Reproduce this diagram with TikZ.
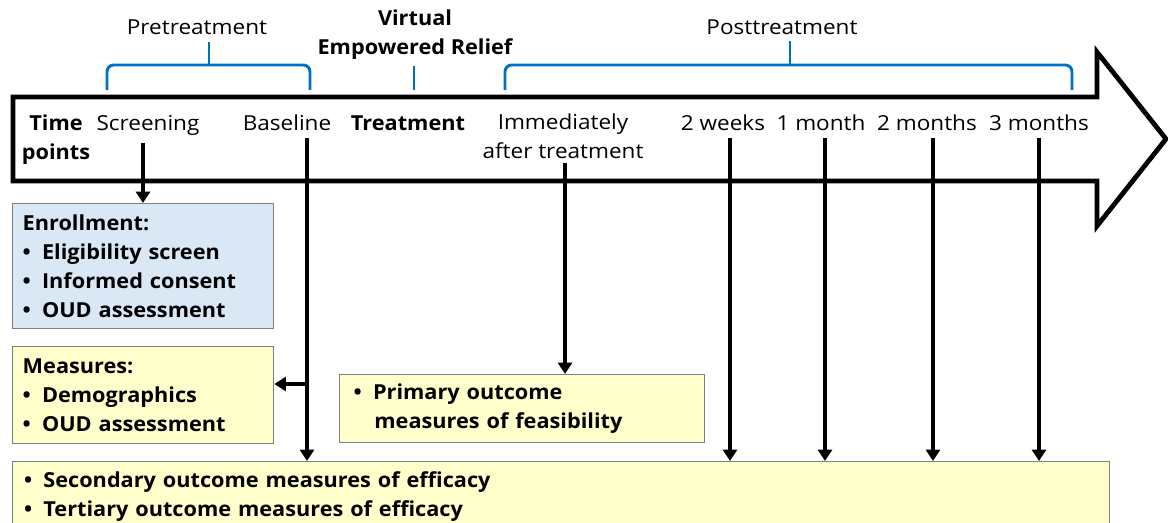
\documentclass[tikz,border=0pt]{standalone}
\usepackage{fontspec}
\newfontfamily\regf{Open Sans}[FakeStretch=1.09]
\newfontfamily\boldf{Open Sans}[FakeStretch=1.05]
\usetikzlibrary{arrows.meta}
\definecolor{bracketblue}{RGB}{0,112,192}
\definecolor{boxblue}{RGB}{218,232,245}
\definecolor{boxyellow}{RGB}{255,255,204}
\definecolor{boxgrey}{RGB}{128,128,128}
\newcommand{\bul}{\makebox[14.5pt][l]{•}}
\begin{document}
\begin{tikzpicture}[x=0.75pt,y=-0.75pt,
  lbl/.style={font=\fontsize{15.5}{21.75}\selectfont\regf, inner sep=0pt, align=center, anchor=base},
  blbl/.style={lbl, font=\fontsize{15.5}{21.75}\selectfont\boldf\bfseries},
  box/.style={draw=boxgrey, line width=1.1pt, anchor=north west, inner ysep=0pt, align=left,
    font=\fontsize{15.5}{21.75}\selectfont\boldf\bfseries},
  conn/.style={line width=3pt, -{Triangle[width=10.5pt,length=8.5pt]}},
  brace/.style={draw=bracketblue, line width=2.2pt, rounded corners=5pt},
  timearrow/.style={draw=black, line width=3.6pt, line join=miter, fill=white}
]
\useasboundingbox (0,0) rectangle (1168,523);

% big time arrow
\draw[timearrow] (13,97) -- (1097,97) -- (1097,52) -- (1166,139) -- (1097,226) -- (1097,181) -- (13,181) -- cycle;

% brackets
\draw[brace] (107,90) -- (107,65) -- (310,65) -- (310,90);
\draw[brace, rounded corners=0pt] (209,65) -- (209,42);
\draw[brace] (505,90) -- (505,65) -- (1072,65) -- (1072,90);
\draw[brace, rounded corners=0pt] (790,65) -- (790,41);
\draw[brace, rounded corners=0pt] (414,66) -- (414,90);

% header labels
\node[lbl] (pre) at (197,35) {Pretreatment};
\node[lbl] (post) at (782,35) {Posttreatment};
\node[blbl] (ver) at (415,55) {Virtual\\Empowered Relief};

% time points
\node[blbl] (tp) at (56,160) {Time\\points};
\node[lbl] (scr) at (148,131) {Screening};
\node[lbl] (bas) at (287,131) {Baseline};
\node[blbl] (treat) at (408,131) {Treatment};
\node[lbl] (imm) at (563,159) {Immediately\\after treatment};
\node[lbl] (w2) at (723,131) {2 weeks};
\node[lbl] (m1) at (821,131) {1 month};
\node[lbl] (m2) at (927,131) {2 months};
\node[lbl] (m3) at (1039,131) {3 months};

% boxes
\node[box, fill=boxblue, inner xsep=7.5pt, minimum width=195.75pt, minimum height=93.75pt, text width=180.75pt]
  (enr) at (12,203) {Enrollment:\\\bul Eligibility screen\\\bul Informed consent\\\bul OUD assessment};
\node[box, fill=boxyellow, inner xsep=7.5pt, minimum width=195.75pt, minimum height=72.75pt, text width=180.75pt]
  (meas) at (12,346) {Measures:\\\bul Demographics\\\bul OUD assessment};
\node[box, fill=boxyellow, inner xsep=10.5pt, minimum width=273.75pt, minimum height=51pt, text width=252.75pt]
  (prim) at (339,374) {\bul Primary outcome\\\hspace*{15.5pt}measures of feasibility};
\node[box, fill=boxyellow, inner xsep=8.5pt, minimum width=822.75pt, minimum height=51.75pt, text width=805.75pt]
  (sec) at (12,461) {\bul Secondary outcome measures of efficacy\\\bul Tertiary outcome measures of efficacy};

% connector start points
\coordinate (cscr) at (143,143);
\coordinate (cbas) at (307,138);
\coordinate (cbr) at (307,384);
\coordinate (cimm) at (565,163);
\coordinate (cw2) at (730,138);
\coordinate (cm1) at (825,138);
\coordinate (cm2) at (933,138);
\coordinate (cm3) at (1039,138);

\draw[conn] (cscr) -- (cscr |- enr.north);
\draw[conn] (cbas) -- (cbas |- sec.north);
\draw[conn] (cbr) -- (meas.east |- cbr);
\draw[conn] (cimm) -- (cimm |- prim.north);
\draw[conn] (cw2) -- (cw2 |- sec.north);
\draw[conn] (cm1) -- (cm1 |- sec.north);
\draw[conn] (cm2) -- (cm2 |- sec.north);
\draw[conn] (cm3) -- (cm3 |- sec.north);
\end{tikzpicture}
\end{document}
